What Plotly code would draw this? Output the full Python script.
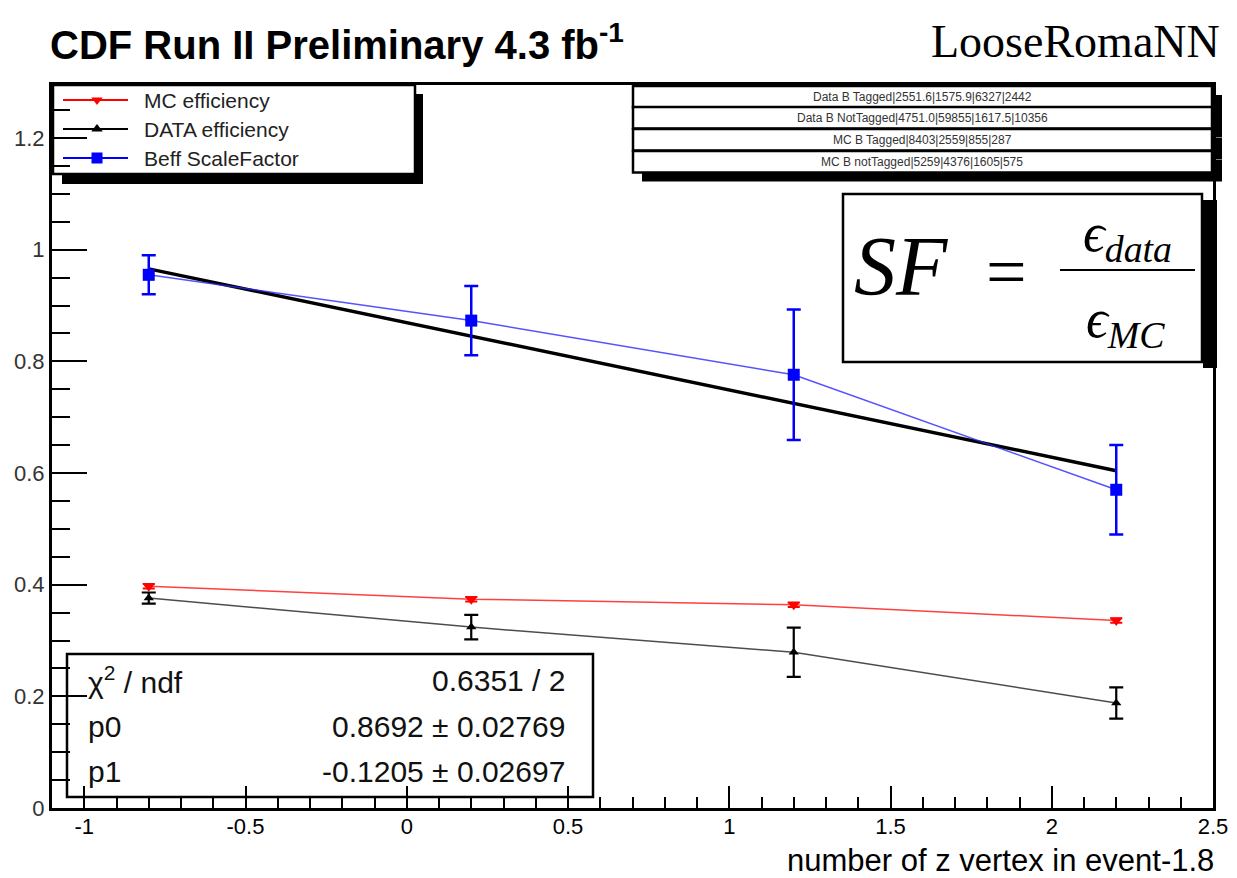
import plotly.graph_objects as go

# ---------------- data ----------------
x_vals = [-0.8, 0.2, 1.2, 2.2]
mc_eff = [0.397, 0.374, 0.364, 0.336]
mc_err = [0.004, 0.004, 0.004, 0.004]
data_eff = [0.376, 0.324, 0.279, 0.188]
data_err = [0.010, 0.022, 0.044, 0.028]
sf_vals = [0.955, 0.873, 0.776, 0.570]
sf_err = [0.035, 0.062, 0.117, 0.080]

fit_p0 = 0.8692
fit_p1 = -0.1205
fit_range = [-0.8, 2.2]

x_ticks = [-1, -0.5, 0, 0.5, 1, 1.5, 2, 2.5]
x_ticktext = ["-1", "-0.5", "0", "0.5", "1", "1.5", "2", "2.5"]
y_ticks = [0, 0.2, 0.4, 0.6, 0.8, 1.0, 1.2]
y_ticktext = ["0", "0.2", "0.4", "0.6", "0.8", "1", "1.2"]

legend_labels = ["MC efficiency", "DATA efficiency", "Beff ScaleFactor"]
legend_colors = ["red", "black", "blue"]
legend_symbols = ["triangle-down", "triangle-up", "square"]

table_rows = [
    "Data B Tagged|2551.6|1575.9|6327|2442",
    "Data B NotTagged|4751.0|59855|1617.5|10356",
    "MC B Tagged|8403|2559|855|287",
    "MC B notTagged|5259|4376|1605|575",
]
stats_rows = [
    ("\u03c7<sup>2</sup> / ndf", "0.6351 / 2"),
    ("p0", "0.8692 \u00b1 0.02769"),
    ("p1", "-0.1205 \u00b1 0.02697"),
]

# ---------------- layout geometry (pixels) ----------------
W, H = 1237, 878
L, R, T, B = 52, 1213, 85, 808
SANS = "Liberation Sans, Arial, sans-serif"
SERIF = "Liberation Serif, Times New Roman, serif"


def fx(px):
    return (px - L) / (R - L)


def fy(py):
    return (B - py) / (B - T)


fig = go.Figure()

# fit line
fit_y = [fit_p0 + fit_p1 * xv for xv in fit_range]
fig.add_trace(go.Scatter(x=fit_range, y=fit_y, mode="lines",
                         line=dict(color="black", width=3.4), showlegend=False))

# MC efficiency
fig.add_trace(go.Scatter(
    x=x_vals, y=mc_eff, mode="lines+markers",
    line=dict(color="rgba(255,0,0,0.75)", width=1.5),
    marker=dict(symbol="triangle-down", size=11, color="red"),
    error_y=dict(type="data", array=mc_err, color="red", thickness=2, width=6),
    showlegend=False))

# DATA efficiency
fig.add_trace(go.Scatter(
    x=x_vals, y=data_eff, mode="lines+markers",
    line=dict(color="rgba(0,0,0,0.7)", width=1.5),
    marker=dict(symbol="triangle-up", size=9, color="black"),
    error_y=dict(type="data", array=data_err, color="black", thickness=2.2, width=7),
    showlegend=False))

# Scale factor
fig.add_trace(go.Scatter(
    x=x_vals, y=sf_vals, mode="lines+markers",
    line=dict(color="rgba(40,40,255,0.8)", width=1.5),
    marker=dict(symbol="square", size=12, color="blue"),
    error_y=dict(type="data", array=sf_err, color="blue", thickness=2.5, width=7),
    showlegend=False))

shapes = []
annotations = []


def rect(x0, y0, x1, y1, fill="white", line_w=2.5, line_c="black", layer="below"):
    shapes.append(dict(type="rect", xref="paper", yref="paper",
                       x0=fx(x0), x1=fx(x1), y0=fy(y1), y1=fy(y0),
                       fillcolor=fill, line=dict(color=line_c, width=line_w),
                       layer=layer))


# ---- legend box ----
rect(62, 94, 423, 184, fill="black", line_w=0)
rect(53, 85, 415, 174)
leg_rows_y = [100, 129, 158]
for lab, col, sym, yy in zip(legend_labels, legend_colors, legend_symbols, leg_rows_y):
    fig.add_trace(go.Scatter(x=[63, 128], y=[yy, yy], mode="lines",
                             line=dict(color=col, width=2.2),
                             xaxis="x2", yaxis="y2", showlegend=False))
    fig.add_trace(go.Scatter(x=[97], y=[yy], mode="markers",
                             marker=dict(symbol=sym, size=10 if sym != "square" else 11, color=col),
                             xaxis="x2", yaxis="y2", showlegend=False))
    annotations.append(dict(xref="paper", yref="paper", x=fx(142), y=fy(yy),
                            xanchor="left", yanchor="middle", showarrow=False,
                            text=lab, font=dict(family=SANS, size=21, color="#222")))

# ---- table rows ----
row_tops = [86, 107, 129, 151]
row_h = 21.5
for i, (txt, top) in enumerate(zip(table_rows, row_tops)):
    rect(642, top + 9, 1222, top + row_h + 9, fill="black", line_w=0)
    rect(633, top, 1212, top + row_h)
    annotations.append(dict(xref="paper", yref="paper", x=fx(922), y=fy(top + row_h / 2),
                            xanchor="center", yanchor="middle", showarrow=False,
                            text=txt, font=dict(family=SANS, size=12, color="#333")))

# ---- formula box ----
rect(1203, 200, 1217, 368, fill="black", line_w=0)
rect(843, 194, 1202, 362)
annotations.append(dict(xref="paper", yref="paper", x=fx(852), y=fy(266),
                        xanchor="left", yanchor="middle", showarrow=False,
                        text="<i>SF</i>", font=dict(family=SERIF, size=84, color="black")))
annotations.append(dict(xref="paper", yref="paper", x=fx(1006), y=fy(272),
                        xanchor="center", yanchor="middle", showarrow=False,
                        text="=", font=dict(family=SERIF, size=72, color="black")))
shapes.append(dict(type="line", xref="paper", yref="paper",
                   x0=fx(1060), x1=fx(1195), y0=fy(270), y1=fy(270),
                   line=dict(color="black", width=2)))
annotations.append(dict(xref="paper", yref="paper", x=fx(1127), y=fy(236),
                        xanchor="center", yanchor="middle", showarrow=False,
                        text="<i>\u03f5</i><sub><i>data</i></sub>",
                        font=dict(family=SERIF, size=54, color="black")))
annotations.append(dict(xref="paper", yref="paper", x=fx(1125), y=fy(322),
                        xanchor="center", yanchor="middle", showarrow=False,
                        text="<i>\u03f5</i><sub><i>MC</i></sub>",
                        font=dict(family=SERIF, size=54, color="black")))

# ---- stats box ----
rect(67, 654, 593, 797)
stat_rows_y = [680, 726, 771]
for (lab, val), yy in zip(stats_rows, stat_rows_y):
    annotations.append(dict(xref="paper", yref="paper", x=fx(86), y=fy(yy),
                            xanchor="left", yanchor="middle", showarrow=False,
                            text=lab, font=dict(family=SANS, size=30, color="#111")))
    annotations.append(dict(xref="paper", yref="paper", x=fx(567), y=fy(yy),
                            xanchor="right", yanchor="middle", showarrow=False,
                            text=val, font=dict(family=SANS, size=30, color="#111")))

# ---- titles ----
annotations.append(dict(xref="paper", yref="paper", x=fx(48), y=fy(42),
                        xanchor="left", yanchor="middle", showarrow=False,
                        text="<b>CDF Run II Preliminary 4.3 fb<sup>-1</sup></b>",
                        font=dict(family=SANS, size=40, color="black")))
annotations.append(dict(xref="paper", yref="paper", x=fx(1222), y=fy(42),
                        xanchor="right", yanchor="middle", showarrow=False,
                        text="LooseRomaNN",
                        font=dict(family=SERIF, size=46, color="black")))
annotations.append(dict(xref="paper", yref="paper", x=fx(1216), y=fy(860),
                        xanchor="right", yanchor="middle", showarrow=False,
                        text="number of z vertex in event-1.8",
                        font=dict(family=SANS, size=31, color="black")))

fig.update_layout(
    width=W, height=H,
    margin=dict(l=L, r=W - R, t=T, b=H - B, pad=0, autoexpand=False),
    paper_bgcolor="white", plot_bgcolor="white",
    showlegend=False,
    shapes=shapes, annotations=annotations,
    xaxis=dict(range=[-1.1, 2.5], tickmode="array", tickvals=x_ticks, ticktext=x_ticktext,
               ticks="inside", ticklen=22, tickwidth=2, tickcolor="black",
               minor=dict(ticks="inside", ticklen=11, tickwidth=2, tickcolor="black",
                          tickmode="linear", tick0=-1.1, dtick=0.1, showgrid=False),
               showline=True, linecolor="black", linewidth=3, mirror=True,
               showgrid=False, zeroline=False, automargin=False,
               ticklabelstandoff=-3,
               tickfont=dict(family=SANS, size=22, color="black")),
    yaxis=dict(range=[0, 1.295], tickmode="array", tickvals=y_ticks, ticktext=y_ticktext,
               ticks="inside", ticklen=35, tickwidth=2, tickcolor="black",
               minor=dict(ticks="inside", ticklen=18, tickwidth=2, tickcolor="black",
                          tickmode="linear", tick0=0, dtick=0.05, showgrid=False),
               showline=True, linecolor="black", linewidth=3, mirror=True,
               showgrid=False, zeroline=False, automargin=False,
               tickfont=dict(family=SANS, size=22, color="#333")),
    xaxis2=dict(range=[L, R], overlaying="x", visible=False, anchor="y2"),
    yaxis2=dict(range=[B, T], overlaying="y", visible=False, anchor="x2"),
)

fig.write_html("out.html", config={"displayModeBar": False},
               post_script="document.body.style.margin='0';document.body.style.overflow='hidden';")
